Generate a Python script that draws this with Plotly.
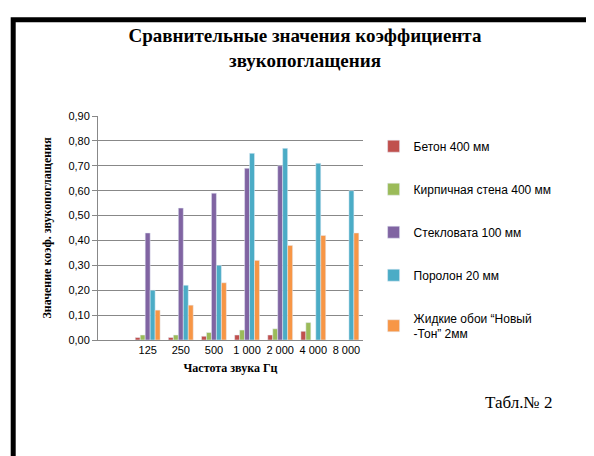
import plotly.graph_objects as go

cats = ["", "125", "250", "500", "1 000", "2 000", "4 000", "8 000"]
names = ["Бетон 400 мм", "Кирпичная стена 400 мм", "Стекловата 100 мм", "Поролон 20 мм",
         "Жидкие обои “Новый<br>-Тон” 2мм"]
beton = [None, 0.01, 0.01, 0.015, 0.02, 0.02, 0.035, None]
brick = [None, 0.02, 0.02, 0.03, 0.04, 0.045, 0.07, None]
glass = [None, 0.43, 0.53, 0.59, 0.69, 0.70, None, None]
foam = [None, 0.20, 0.22, 0.30, 0.75, 0.77, 0.71, 0.60]
paper = [None, 0.12, 0.14, 0.23, 0.32, 0.38, 0.42, 0.43]
colors = ["#C0504D", "#9BBB59", "#8064A2", "#4BACC6", "#F79646"]
ticks = [0.0, 0.1, 0.2, 0.3, 0.4, 0.5, 0.6, 0.7, 0.8, 0.9]

fig = go.Figure()
for i, (n, v, c) in enumerate(zip(names, [beton, brick, glass, foam, paper], colors)):
    fig.add_bar(x=cats, y=v, name=n, marker_color=c, legendgroup=f"g{i}")

fig.update_layout(
    width=594, height=456, paper_bgcolor="white", plot_bgcolor="white",
    margin=dict(l=90, r=239, t=108, b=124),
    barmode="group", bargap=0.25, bargroupgap=0,
    font=dict(family="Liberation Sans", size=11, color="black"),
    title=dict(text="<b>Сравнительные значения коэффициента<br>звукопоглащения</b>",
               x=0.5, xanchor="center", y=0.925, yanchor="top",
               font=dict(family="Liberation Serif", size=19)),
    xaxis=dict(type="category", showline=True, linecolor="#888", ticks="",
               title=dict(text="<b>Частота звука Гц</b>", font=dict(family="Liberation Serif", size=12), standoff=8)),
    yaxis=dict(range=[0, 0.9], tickvals=ticks, ticktext=[f"{t:.2f}".replace(".", ",") for t in ticks],
               showgrid=True, gridcolor="#888", showline=True, linecolor="#888", ticks="outside", tickcolor="#888",
               title=dict(text="<b>Значение коэф. звукопоглащения</b>", font=dict(family="Liberation Serif", size=12), standoff=14)),
    legend=dict(x=1.04, y=0.93, yanchor="top", tracegroupgap=24, font=dict(size=12),
                itemwidth=30, bgcolor="rgba(0,0,0,0)"),
    showlegend=True,
)
fig.add_shape(type="rect", xref="paper", yref="paper", x0=-0.32, x1=1.87, y0=-0.53, y1=1.43,
              line=dict(color="black", width=5))
fig.add_annotation(text="Табл.№ 2", xref="paper", yref="paper", x=1.72, y=-0.33, showarrow=False,
                   xanchor="right", font=dict(family="Liberation Serif", size=17))
fig.write_html("out.html")
